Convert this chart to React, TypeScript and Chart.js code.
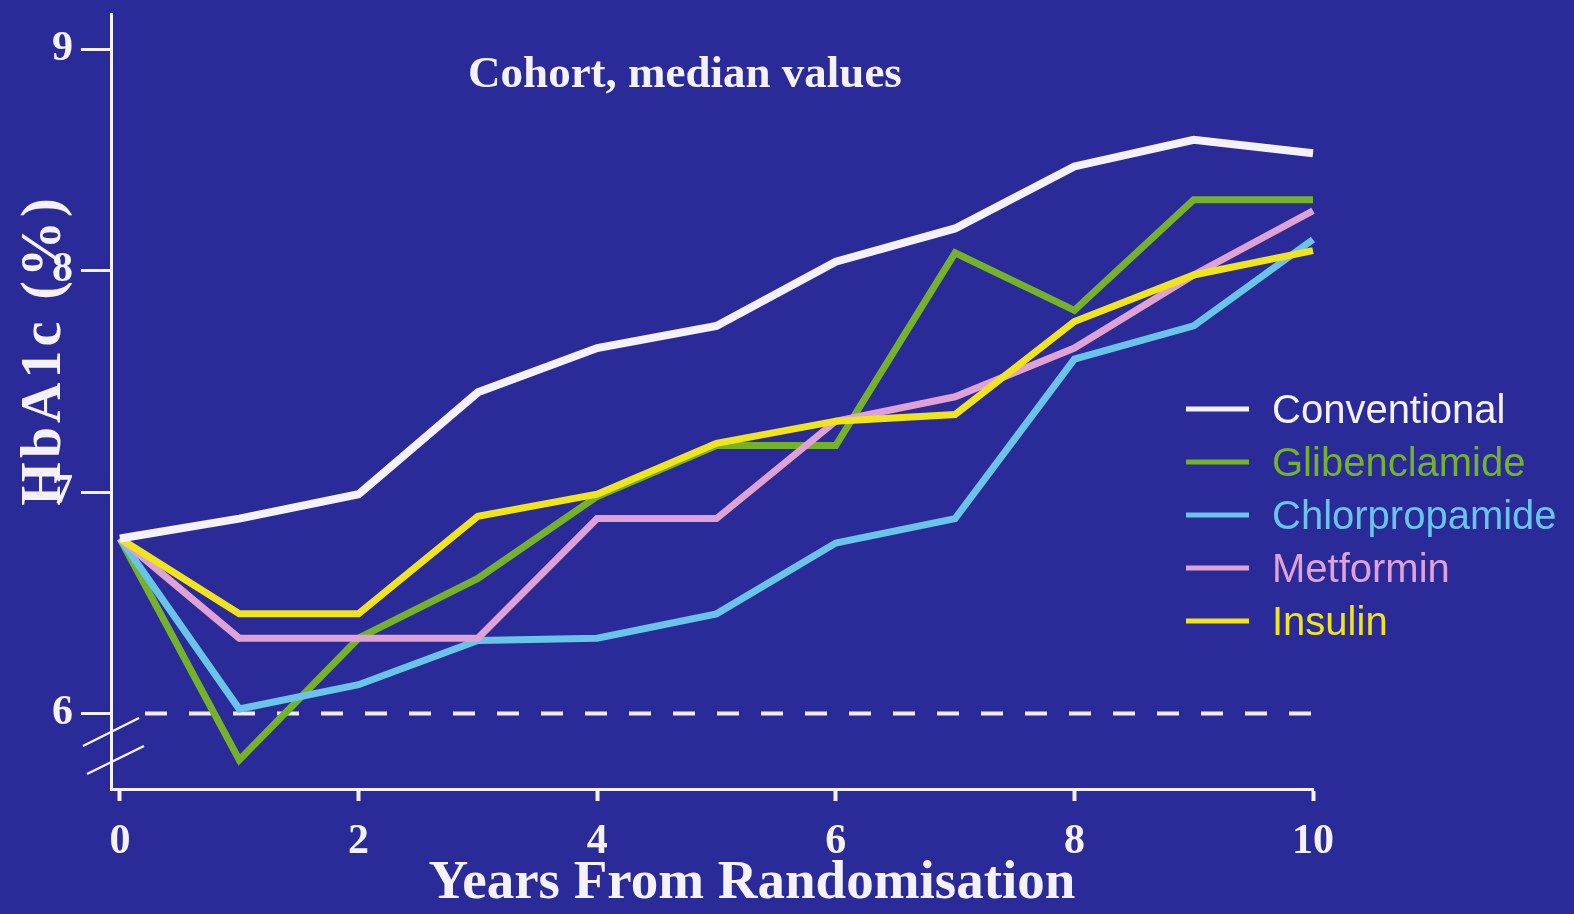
import React, { useEffect, useRef } from "react";
import { Chart, registerables } from "chart.js";

Chart.register(...registerables);

// ---- data ----
const years = [0, 1, 2, 3, 4, 5, 6, 7, 8, 9, 10];
const conventional = [6.79, 6.88, 6.99, 7.45, 7.65, 7.75, 8.04, 8.19, 8.47, 8.59, 8.53];
const glibenclamide = [6.79, 5.79, 6.34, 6.61, 6.98, 7.21, 7.21, 8.08, 7.82, 8.32, 8.32];
const chlorpropamide = [6.79, 6.02, 6.13, 6.33, 6.34, 6.45, 6.77, 6.88, 7.6, 7.75, 8.14];
const metformin = [6.79, 6.34, 6.34, 6.34, 6.88, 6.88, 7.32, 7.43, 7.65, 7.98, 8.27];
const insulin = [6.79, 6.45, 6.45, 6.89, 6.99, 7.22, 7.32, 7.35, 7.77, 7.98, 8.09];

const seriesNames = ["Conventional", "Glibenclamide", "Chlorpropamide", "Metformin", "Insulin"];
const seriesValues = [conventional, glibenclamide, chlorpropamide, metformin, insulin];
const seriesColors = ["#f4f2f8", "#74b22a", "#6ac4e8", "#e0a2d4", "#f0e41e"];

const xTickValues = [0, 2, 4, 6, 8, 10];
const yTickValues = [9, 8, 7, 6];
const referenceLevel = 6;
const referenceSpan = [0.21, 10];

const chartTitle = "Cohort, median values";
const xTitle = "Years From Randomisation";
const yTitle = "HbA1c (%)";

const BG = "#2a2b98";
const SERIF = "'Liberation Serif', 'Times New Roman', serif";
const SANS = "'Liberation Sans', Arial, sans-serif";

const decorPlugin = {
  id: "decor",
  beforeDraw(chart: any) {
    const ctx = chart.ctx;
    ctx.save();
    ctx.fillStyle = BG;
    ctx.fillRect(0, 0, chart.width, chart.height);
    ctx.restore();
  },
  afterDraw(chart: any) {
    const ctx = chart.ctx;
    const area = chart.chartArea;
    ctx.save();
    ctx.fillStyle = "#f4f2f8";
    ctx.textAlign = "center";
    ctx.textBaseline = "middle";
    // chart title
    ctx.font = `bold 45px ${SERIF}`;
    ctx.fillText(chartTitle, 685, 75);
    // x title
    ctx.font = `bold 55px ${SERIF}`;
    ctx.fillText(xTitle, 752, 884);
    // y title
    ctx.save();
    ctx.translate(46, 350);
    ctx.rotate(-Math.PI / 2);
    ctx.font = `bold 56px ${SERIF}`;
    try {
      (ctx as any).letterSpacing = "4px";
    } catch (e) {}
    ctx.fillText(yTitle, 0, 0);
    ctx.restore();

    // axis break marks
    ctx.strokeStyle = "#f4f2f8";
    ctx.lineWidth = 2.5;
    ctx.beginPath();
    ctx.moveTo(area.left - 28, 746);
    ctx.lineTo(area.left + 28, 718);
    ctx.moveTo(area.left - 24, 774);
    ctx.lineTo(area.left + 33, 746);
    ctx.stroke();

    // legend
    ctx.font = `40px ${SANS}`;
    ctx.textAlign = "left";
    seriesNames.forEach((name, i) => {
      const y = 412 + i * 53;
      ctx.strokeStyle = seriesColors[i];
      ctx.lineWidth = 5;
      ctx.beginPath();
      ctx.moveTo(1186, y - 3);
      ctx.lineTo(1249, y - 3);
      ctx.stroke();
      ctx.fillStyle = seriesColors[i];
      ctx.fillText(name, 1272, y);
    });
    ctx.restore();
  },
};

export default function App() {
  const canvasRef = useRef<HTMLCanvasElement | null>(null);

  useEffect(() => {
    const canvas = canvasRef.current;
    if (!canvas) return;

    const lineDatasets = seriesNames.map((name, i) => ({
      label: name,
      data: years.map((x, j) => ({ x, y: seriesValues[i][j] })),
      borderColor: seriesColors[i],
      backgroundColor: seriesColors[i],
      borderWidth: i === 0 ? 8 : 7,
      pointRadius: 0,
      tension: 0,
      clip: false,
      borderJoinStyle: "miter",
    }));
    // top-most first: white, yellow, pink, cyan, green
    const order = [0, 4, 3, 2, 1];
    const datasets: any[] = order.map((k) => lineDatasets[k]);
    datasets.push({
      label: "reference",
      data: referenceSpan.map((x) => ({ x, y: referenceLevel })),
      borderColor: "#f2eaf2",
      borderWidth: 4,
      borderDash: [22, 22],
      pointRadius: 0,
      clip: false,
    });

    const chart = new Chart(canvas, {
      type: "line",
      data: { datasets },
      options: {
        animation: false,
        responsive: true,
        maintainAspectRatio: false,
        layout: { padding: { left: 0, top: 10, right: 261, bottom: 0 } },
        plugins: {
          legend: { display: false },
          tooltip: { enabled: false },
          title: { display: false },
        },
        scales: {
          x: {
            type: "linear",
            min: -0.075,
            max: 10,
            afterFit: (scale: any) => {
              scale.height = 125;
            },
            afterBuildTicks: (axis: any) => {
              axis.ticks = xTickValues.map((v) => ({ value: v }));
            },
            border: { display: true, color: "#f4f2f8", width: 3 },
            grid: {
              display: true,
              drawOnChartArea: false,
              drawTicks: true,
              tickLength: 12,
              tickWidth: 4,
              tickColor: "#f4f2f8",
            },
            ticks: {
              color: "#f4f2f8",
              font: { family: SERIF, size: 42, weight: "bold" },
              padding: 16,
              maxRotation: 0,
              autoSkip: false,
            },
          },
          y: {
            type: "linear",
            min: 5.659,
            max: 9.157,
            afterFit: (scale: any) => {
              scale.width = 111;
            },
            afterBuildTicks: (axis: any) => {
              axis.ticks = yTickValues.map((v) => ({ value: v }));
            },
            border: { display: true, color: "#f4f2f8", width: 3 },
            grid: {
              display: true,
              drawOnChartArea: false,
              drawTicks: true,
              tickLength: 30,
              tickWidth: 3,
              tickColor: "#f4f2f8",
            },
            ticks: {
              color: "#f4f2f8",
              font: { family: SERIF, size: 42, weight: "bold", lineHeight: 0.3 },
              padding: 8,
              autoSkip: false,
            },
          },
        },
      } as any,
      plugins: [decorPlugin],
    });

    return () => {
      chart.destroy();
    };
  }, []);

  return (
    <div
      style={{
        position: "fixed",
        left: 0,
        top: 0,
        width: 1574,
        height: 914,
        background: BG,
      }}
    >
      <canvas ref={canvasRef} />
    </div>
  );
}
